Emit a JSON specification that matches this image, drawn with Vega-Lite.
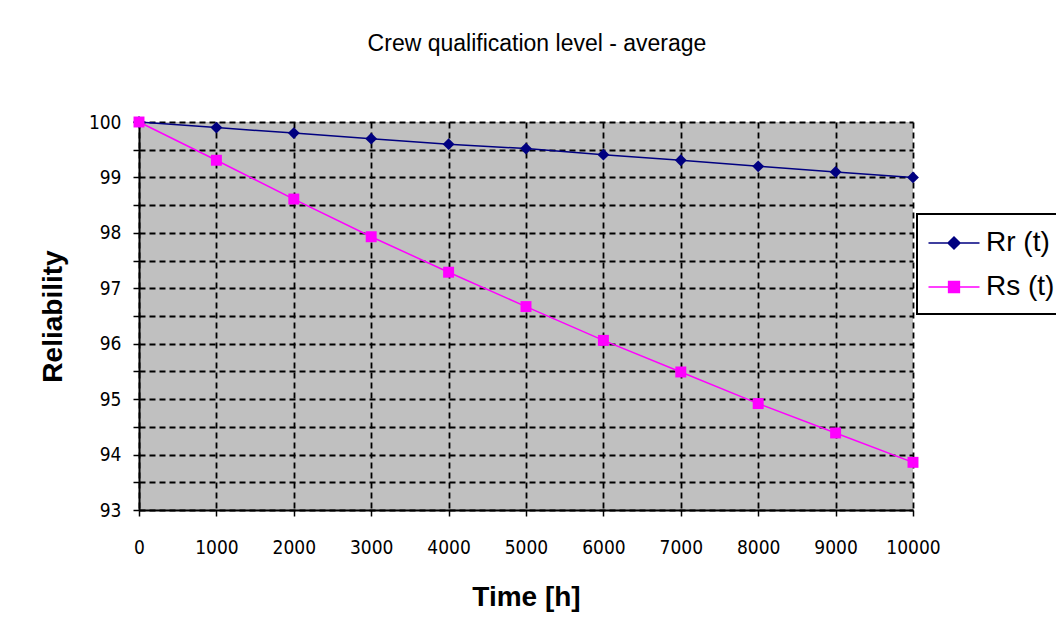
{
  "$schema": "https://vega.github.io/schema/vega-lite/v6.json",
  "width": 774,
  "height": 388,
  "autosize": {"type": "none"},
  "padding": {"left": 139, "top": 122, "right": 143, "bottom": 128},
  "background": "white",
  "title": {
    "text": "Crew qualification level - average",
    "font": "Liberation Sans",
    "fontSize": 23,
    "fontWeight": "normal",
    "color": "black",
    "anchor": "middle",
    "dx": 11,
    "offset": 57
  },
  "config": {
    "view": {"fill": "#C0C0C0", "stroke": null}
  },
  "data": {
    "values": [
      {"time": 0, "reliability": 100, "series": "Rr (t)"},
      {"time": 1000, "reliability": 99.9, "series": "Rr (t)"},
      {"time": 2000, "reliability": 99.8, "series": "Rr (t)"},
      {"time": 3000, "reliability": 99.7, "series": "Rr (t)"},
      {"time": 4000, "reliability": 99.6, "series": "Rr (t)"},
      {"time": 5000, "reliability": 99.52, "series": "Rr (t)"},
      {"time": 6000, "reliability": 99.41, "series": "Rr (t)"},
      {"time": 7000, "reliability": 99.31, "series": "Rr (t)"},
      {"time": 8000, "reliability": 99.2, "series": "Rr (t)"},
      {"time": 9000, "reliability": 99.1, "series": "Rr (t)"},
      {"time": 10000, "reliability": 99.0, "series": "Rr (t)"},
      {"time": 0, "reliability": 100, "series": "Rs (t)"},
      {"time": 1000, "reliability": 99.31, "series": "Rs (t)"},
      {"time": 2000, "reliability": 98.61, "series": "Rs (t)"},
      {"time": 3000, "reliability": 97.93, "series": "Rs (t)"},
      {"time": 4000, "reliability": 97.29, "series": "Rs (t)"},
      {"time": 5000, "reliability": 96.67, "series": "Rs (t)"},
      {"time": 6000, "reliability": 96.06, "series": "Rs (t)"},
      {"time": 7000, "reliability": 95.49, "series": "Rs (t)"},
      {"time": 8000, "reliability": 94.92, "series": "Rs (t)"},
      {"time": 9000, "reliability": 94.39, "series": "Rs (t)"},
      {"time": 10000, "reliability": 93.86, "series": "Rs (t)"}
    ]
  },
  "encoding": {
    "x": {
      "field": "time",
      "type": "quantitative",
      "scale": {"domain": [0, 10000], "nice": false},
      "axis": {
        "title": "Time [h]",
        "titleFont": "Liberation Sans",
        "titleFontSize": 28,
        "titleFontWeight": "bold",
        "titleColor": "black",
        "titlePadding": 26,
        "values": [0, 1000, 2000, 3000, 4000, 5000, 6000, 7000, 8000, 9000, 10000],
        "format": "d",
        "labelFont": "DejaVu Sans Condensed, Liberation Sans",
        "labelFontSize": 19,
        "labelColor": "black",
        "labelPadding": 22,
        "labelFlush": false,
        "tickColor": "black",
        "tickSize": 6,
        "tickWidth": 1.5,
        "domainColor": "black",
        "domainWidth": 2,
        "grid": true,
        "gridColor": "black",
        "gridDash": [6, 4],
        "gridWidth": 1.8,
        "gridOpacity": 1
      }
    },
    "y": {
      "field": "reliability",
      "type": "quantitative",
      "scale": {"domain": [93, 100], "zero": false, "nice": false},
      "axis": {
        "title": "Reliability",
        "titleFont": "Liberation Sans",
        "titleFontSize": 28,
        "titleFontWeight": "bold",
        "titleColor": "black",
        "titlePadding": 21,
        "values": [93, 93.5, 94, 94.5, 95, 95.5, 96, 96.5, 97, 97.5, 98, 98.5, 99, 99.5, 100],
        "labelExpr": "datum.value % 1 === 0 ? format(datum.value, 'd') : ''",
        "labelFont": "DejaVu Sans Condensed, Liberation Sans",
        "labelFontSize": 19,
        "labelColor": "black",
        "labelPadding": 12,
        "tickColor": "black",
        "tickSize": 6,
        "tickWidth": 1.5,
        "domainColor": "black",
        "domainWidth": 2,
        "grid": true,
        "gridColor": "black",
        "gridDash": [6, 4],
        "gridWidth": 1.8,
        "gridOpacity": 1
      }
    },
    "color": {
      "field": "series",
      "type": "nominal",
      "scale": {"domain": ["Rr (t)", "Rs (t)"], "range": ["#000080", "#FF00FF"]},
      "legend": {
        "title": null,
        "orient": "none",
        "legendX": 778,
        "legendY": 92,
        "strokeColor": "black",
        "fillColor": "white",
        "padding": 13,
        "labelFont": "Liberation Sans",
        "labelFontSize": 28,
        "labelColor": "black",
        "symbolSize": 900,
        "symbolOffset": 8,
        "rowPadding": 14,
        "labelOffset": 16,
        "encode": {
          "legend": {
            "update": {"strokeWidth": {"value": 2}}
          },
          "symbols": {
            "update": {
              "shape": {"signal": "datum.value === 'Rr (t)' ? 'M-1.7,0H1.7M-0.4,0L0,-0.4L0.4,0L0,0.4Z' : 'M-1.7,0H1.7M-0.36,-0.36H0.36V0.36H-0.36Z'"},
              "fill": {"signal": "datum.value === 'Rr (t)' ? '#000080' : '#FF00FF'"},
              "stroke": {"signal": "datum.value === 'Rr (t)' ? '#000080' : '#FF00FF'"},
              "strokeWidth": {"value": 1.5},
              "opacity": {"value": 1},
              "fillOpacity": {"value": 1}
            }
          }
        }
      }
    }
  },
  "layer": [
    {"mark": {"type": "line", "strokeWidth": 1.5}},
    {
      "transform": [{"filter": "datum.series === 'Rr (t)'"}],
      "mark": {"type": "point", "shape": "diamond", "filled": true, "opacity": 1, "size": 140}
    },
    {
      "transform": [{"filter": "datum.series === 'Rs (t)'"}],
      "mark": {"type": "point", "shape": "square", "filled": true, "opacity": 1, "size": 120}
    }
  ]
}
